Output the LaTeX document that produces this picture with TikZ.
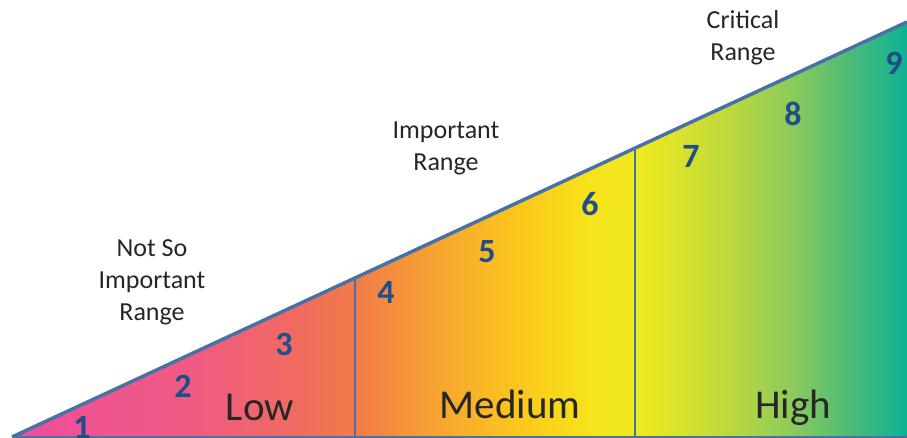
\documentclass[tikz,border=0pt]{standalone}
\usepackage{fontspec}
\setmainfont{Carlito}
\definecolor{c0}{HTML}{EE4D9E}
\definecolor{c1}{HTML}{F05C80}
\definecolor{c2}{HTML}{F06B60}
\definecolor{c3}{HTML}{F27A48}
\definecolor{c4}{HTML}{F7A530}
\definecolor{c5}{HTML}{FBC81C}
\definecolor{c6}{HTML}{F7E31B}
\definecolor{c7}{HTML}{EEEA1E}
\definecolor{c8}{HTML}{C4DA3A}
\definecolor{c9}{HTML}{8DCB5A}
\definecolor{c10}{HTML}{4DBB79}
\definecolor{c11}{HTML}{0EB294}
\definecolor{edgeblue}{HTML}{4872A6}
\definecolor{numblue}{HTML}{1F4E8A}
\definecolor{txtgray}{HTML}{262626}
\pgfdeclarehorizontalshading{rangegrad}{100bp}{color(0bp)=(c0); color(25bp)=(c0); color(35.5bp)=(c1); color(41bp)=(c2); color(44.2bp)=(c3); color(48.9bp)=(c4); color(53.4bp)=(c5); color(57.3bp)=(c6); color(60.1bp)=(c7); color(64.5bp)=(c8); color(68.5bp)=(c9); color(71.8bp)=(c10); color(75bp)=(c11); color(100bp)=(c11)}
\tikzset{
  edge/.style={draw=edgeblue, line width=2.5pt},
  num/.style={text=numblue, font=\fontsize{34}{36}\selectfont\bfseries, inner sep=0pt},
  level/.style={text=txtgray, font=\fontsize{41}{44}\selectfont, inner sep=0pt, anchor=base},
  rangelbl/.style={text=txtgray, font=\fontsize{26}{32}\selectfont, inner sep=0pt, align=center}
}
\begin{document}
\begin{tikzpicture}[x=1pt,y=-1pt]
\useasboundingbox (0,0) rectangle (907,438);
\coordinate (A) at (12,437);
\coordinate (B) at (907,22);
\coordinate (C) at (907,437);
\coordinate (m1) at (355,278);
\coordinate (m1b) at (355,437);
\coordinate (m2) at (635,148);
\coordinate (m2b) at (635,437);
\fill[shading=rangegrad] (A) -- (B) -- (C) -- cycle;
\draw[edge, line width=2.2pt] (A) -- (C);
\draw[edge, line width=2.6pt] (m1) -- (m1b);
\draw[edge, line width=2.6pt] (m2) -- (m2b);
\draw[edge, line width=3.5pt] (A) -- (B);
\node[num] (n1) at (82,427) {1};
\node[num] (n2) at (183,386) {2};
\node[num] (n3) at (284,344) {3};
\node[num] (n4) at (386,292) {4};
\node[num] (n5) at (487,252) {5};
\node[num] (n6) at (590,204) {6};
\node[num] (n7) at (691,156) {7};
\node[num] (n8) at (793,114) {8};
\node[num] (n9) at (894,63) {9};
\node[level] (low) at (260,420) {Low};
\node[level] (med) at (510,418) {Medium};
\node[level] (high) at (793,418) {High};
\node[rangelbl] (r1) at (152,282) {Not So\\Important\\Range};
\node[rangelbl] (r2) at (446,148.5) {Important\\Range};
\node[rangelbl] (r3) at (743,37.5) {Critical\\Range};
\end{tikzpicture}
\end{document}
